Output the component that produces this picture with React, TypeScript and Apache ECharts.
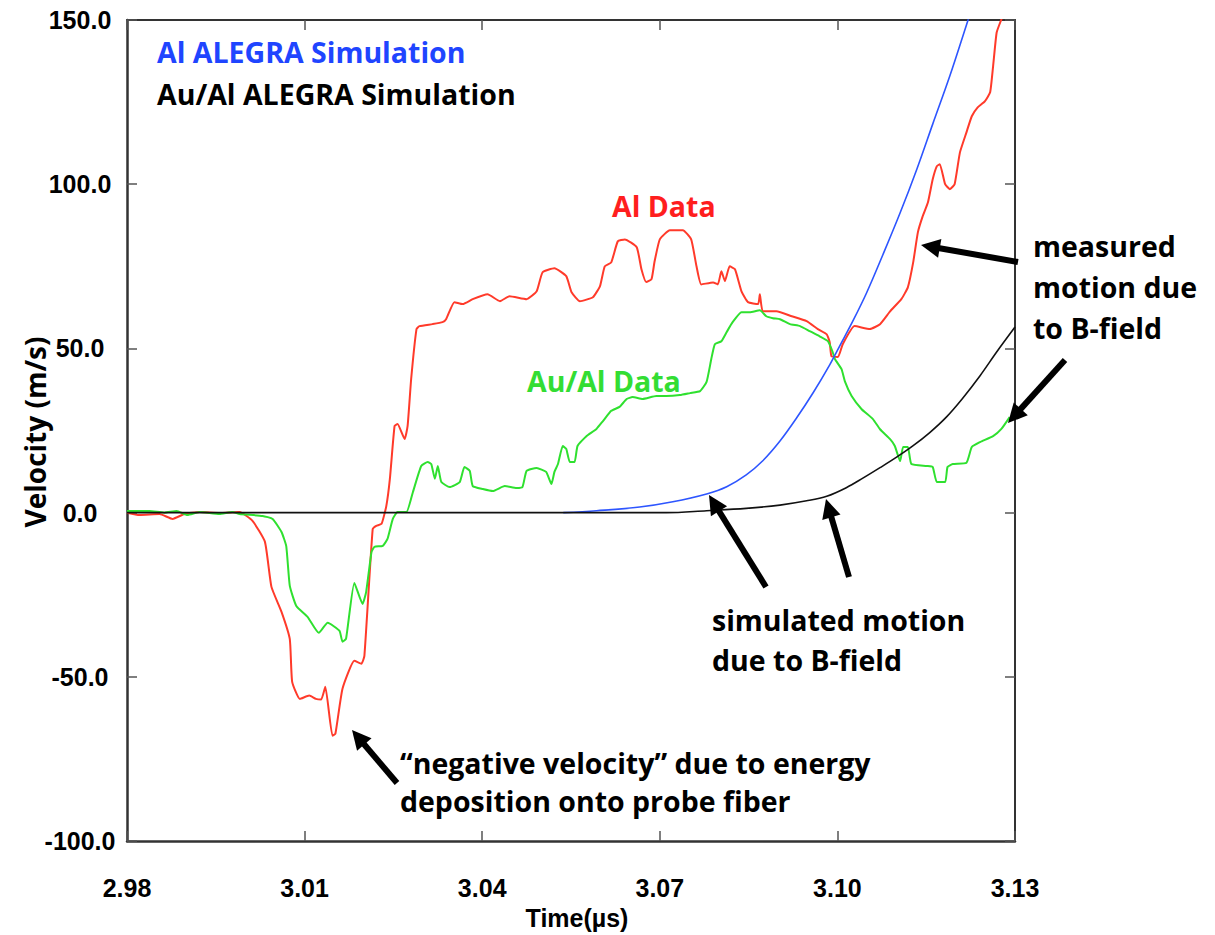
import React, { useEffect, useRef } from "react";
import * as echarts from "echarts";

// Axis definitions
const T0 = 2.98; // first tick of the time axis (µs)
const X_SPAN = 0.15;
const X_STEP = 0.03;
const Y_MIN = -100;
const Y_MAX = 150;
const Y_STEP = 50;

// [time (µs), velocity (m/s)]
const AL_DATA: [number, number][] = [
  [2.98, 0], [2.9821, -0.7], [2.9855, -0.4], [2.9877, -1.9], [2.9897, -0.4], [2.9923, 0.2],
  [2.9956, -0.1], [2.999, 0.2], [3.0012, -2.5], [3.0033, -8.9], [3.0044, -22.6], [3.0061, -30.2],
  [3.0075, -38.5], [3.0079, -51.5], [3.0092, -56.7], [3.0108, -55.7], [3.0119, -56.7], [3.0128, -56.9],
  [3.0135, -53.0], [3.0147, -67.9], [3.0152, -67.3], [3.0164, -53.6], [3.0184, -45.1], [3.0196, -46.0],
  [3.0201, -43.6], [3.0215, -5.0], [3.0221, -4.0], [3.023, -3.4], [3.0238, 2.0], [3.0244, 10.2],
  [3.0252, 26.4], [3.0257, 27.0], [3.0269, 22.4], [3.0274, 26.4], [3.028, 40.7], [3.0289, 55.9],
  [3.0294, 56.8], [3.0316, 57.4], [3.0333, 58.0], [3.0339, 58.9], [3.0353, 64.1], [3.0367, 63.5],
  [3.0384, 65.0], [3.0409, 66.5], [3.043, 64.4], [3.0446, 65.9], [3.0475, 65.0], [3.0492, 67.4],
  [3.0502, 73.2], [3.0522, 74.4], [3.0542, 72.0], [3.0551, 67.1], [3.0565, 64.4], [3.0587, 65.6],
  [3.0599, 69.0], [3.0607, 75.0], [3.0618, 76.2], [3.0629, 82.6], [3.0641, 83.2], [3.0661, 80.8],
  [3.0669, 74.1], [3.0677, 70.2], [3.0686, 71.1], [3.0691, 76.3], [3.07, 83.2], [3.0717, 86.0],
  [3.0739, 86.0], [3.0753, 83.2], [3.0762, 75.0], [3.077, 69.5], [3.079, 70.1], [3.0798, 69.5],
  [3.0804, 73.5], [3.081, 70.5], [3.0818, 75.0], [3.0827, 74.1], [3.0838, 67.4], [3.0849, 64.1],
  [3.0866, 63.5], [3.0869, 66.5], [3.0874, 61.3], [3.0897, 61.3], [3.0923, 59.8], [3.0948, 58.3],
  [3.0967, 55.9], [3.0982, 54.3], [3.0987, 51.9], [3.099, 47.6], [3.1001, 47.4], [3.1009, 51.3],
  [3.1029, 56.8], [3.1055, 55.9], [3.1072, 57.4], [3.1089, 61.3], [3.1108, 65.0], [3.1119, 68.6],
  [3.1128, 76.2], [3.1136, 85.4], [3.1144, 90.2], [3.1153, 94.5], [3.1161, 101.5], [3.1168, 105.5],
  [3.1173, 106.1], [3.1182, 100.0], [3.119, 98.5], [3.1198, 100.0], [3.1207, 109.7], [3.1218, 115.8],
  [3.1227, 120.7], [3.1237, 123.4], [3.1249, 125.2], [3.1258, 128.0], [3.1263, 135.9], [3.1269, 146.2],
  [3.1277, 150.2], [3.1283, 153.2],
];

const AUAL_DATA: [number, number][] = [
  [2.98, 0.5], [2.9838, 0.5], [2.9863, 0], [2.9884, 0.5], [2.9902, -0.7], [2.9923, 0.2],
  [2.9956, -0.4], [2.9978, 0.2], [2.999, -0.4], [3.0029, -1.0], [3.0046, -1.9], [3.0061, -5.9],
  [3.0069, -10.2], [3.0075, -22.3], [3.0086, -28.4], [3.0105, -31.7], [3.0124, -36.6], [3.0139, -33.5],
  [3.0159, -36.0], [3.0164, -39.3], [3.017, -38.4], [3.0184, -21.4], [3.0198, -27.8], [3.0204, -24.1],
  [3.0213, -12.0], [3.0218, -10.4], [3.0232, -10.1], [3.024, -8.0], [3.0249, -1.9], [3.0257, 0.2],
  [3.0272, 0.2], [3.0283, 6.3], [3.0297, 14.2], [3.0308, 15.4], [3.0314, 14.8], [3.032, 10.3],
  [3.0325, 14.2], [3.0331, 9.3], [3.0345, 7.8], [3.0362, 9.3], [3.037, 13.9], [3.0379, 12.7],
  [3.0384, 8.1], [3.0401, 7.2], [3.0418, 6.6], [3.0438, 8.1], [3.0458, 7.5], [3.0468, 7.8],
  [3.0475, 12.7], [3.0492, 13.6], [3.0508, 12.4], [3.0517, 8.7], [3.0522, 12.4], [3.0528, 14.8],
  [3.0536, 20.3], [3.0542, 19.4], [3.0548, 15.4], [3.0556, 15.4], [3.0561, 20.3], [3.0576, 23.3],
  [3.0593, 25.5], [3.0604, 27.9], [3.0618, 31.0], [3.0632, 32.2], [3.0644, 34.6], [3.0654, 35.2],
  [3.0671, 34.6], [3.0694, 35.5], [3.0711, 35.5], [3.0734, 35.8], [3.0751, 36.4], [3.0768, 37.0],
  [3.0779, 39.8], [3.0787, 46.8], [3.0793, 51.3], [3.0804, 52.2], [3.0813, 55.0], [3.0823, 58.0],
  [3.0838, 61.0], [3.0852, 61.0], [3.0869, 61.6], [3.088, 59.8], [3.0891, 59.2], [3.0903, 58.9],
  [3.092, 57.4], [3.0937, 56.8], [3.0953, 55.3], [3.097, 53.7], [3.0984, 52.2], [3.0992, 48.9],
  [3.0996, 46.7], [3.1007, 43.7], [3.1013, 39.8], [3.1024, 35.5], [3.1041, 31.5], [3.106, 28.5],
  [3.1072, 25.4], [3.1089, 22.4], [3.1097, 20.3], [3.1106, 15.7], [3.1111, 20.0], [3.1119, 20.0],
  [3.1125, 14.8], [3.1151, 14.2], [3.1161, 13.9], [3.1168, 9.3], [3.1182, 9.3], [3.1186, 13.9],
  [3.1195, 14.8], [3.1218, 15.2], [3.1227, 20.0], [3.1241, 21.5], [3.1263, 23.3], [3.1277, 25.5],
  [3.1291, 29.1],
];

const AL_SIM: [number, number][] = [
  [3.0537, 0], [3.0593, 0.6], [3.0666, 1.7], [3.0722, 3.3], [3.0779, 5.7], [3.0813, 7.9],
  [3.0846, 11.5], [3.0874, 15.8], [3.0903, 21.8], [3.0931, 28.8], [3.0959, 36.5], [3.0987, 45.0],
  [3.1004, 50.8], [3.1026, 58.3], [3.1049, 66.8], [3.1077, 78.6], [3.1106, 91.3], [3.1134, 104.5],
  [3.1161, 118.3], [3.119, 133.0], [3.1218, 148.5], [3.1226, 153.0],
];

const AUAL_SIM: [number, number][] = [
  [2.98, 0], [3.0711, 0], [3.0779, 0.6], [3.0846, 1.3], [3.0903, 2.3], [3.0948, 3.6],
  [3.0982, 5.0], [3.1015, 7.6], [3.1043, 10.5], [3.1072, 13.7], [3.11, 16.9], [3.1128, 20.4],
  [3.1156, 24.4], [3.1184, 29.1], [3.1211, 34.7], [3.1241, 41.7], [3.1269, 48.9], [3.13, 56.5],
];

const SERIES_NAMES = ["Al Data", "Au/Al Data", "Al ALEGRA Simulation", "Au/Al ALEGRA Simulation"];
const SERIES_COLORS = ["#ff3a2a", "#2fe02f", "#2d55ff", "#111111"];

const ANN_FONT = '"Open Sans", "DejaVu Sans", sans-serif';
const AXIS_FONT = '"Liberation Sans", Arial, sans-serif';

function shift(d: [number, number][]) {
  return d.map(([t, v]) => [+(t - T0).toFixed(5), v]);
}

function arrow(x1: number, y1: number, x2: number, y2: number) {
  const dx = x2 - x1;
  const dy = y2 - y1;
  const L = Math.hypot(dx, dy);
  const ux = dx / L;
  const uy = dy / L;
  const head = 19;
  const hw = 9.5;
  const bx = x2 - ux * head;
  const by = y2 - uy * head;
  const px = -uy;
  const py = ux;
  return [
    {
      type: "line",
      shape: { x1, y1, x2: bx + ux * 3, y2: by + uy * 3 },
      style: { stroke: "#000", lineWidth: 6 },
      z: 100,
    },
    {
      type: "polygon",
      shape: { points: [[x2, y2], [bx + px * hw, by + py * hw], [bx - px * hw, by - py * hw]] },
      style: { fill: "#000" },
      z: 100,
    },
  ];
}

function label(text: string, x: number, y: number, fill: string, size = 28.5) {
  return {
    type: "text",
    x,
    y,
    z: 100,
    style: {
      text,
      fill,
      font: `bold ${size}px ${ANN_FONT}`,
      textAlign: "left",
      textVerticalAlign: "bottom",
    },
  };
}

export default function App() {
  const ref = useRef<HTMLDivElement>(null);

  useEffect(() => {
    if (!ref.current) return;
    const chart = echarts.init(ref.current, undefined, { renderer: "svg" });

    const axisLabelStyle = {
      fontFamily: AXIS_FONT,
      fontWeight: "bold",
      fontSize: 25,
      color: "#000",
    };
    const lineStyle = { color: "#333", width: 2.5 };
    const tickStyle = { color: "#555", width: 1.5 };

    const datasets = [AL_DATA, AUAL_DATA, AL_SIM, AUAL_SIM];

    chart.setOption({
      animation: false,
      backgroundColor: "#fff",
      grid: { left: 127, right: 200, top: 20, bottom: 93, containLabel: false },
      xAxis: [
        {
          type: "value",
          position: "bottom",
          min: 0,
          max: X_SPAN,
          interval: X_STEP,
          axisLine: { show: true, onZero: false, lineStyle },
          axisTick: { show: true, inside: true, length: 10, lineStyle: tickStyle },
          axisLabel: {
            ...axisLabelStyle,
            margin: 34,
            formatter: (v: number) => (v + T0).toFixed(2),
          },
          splitLine: { show: false },
          name: "Time(\u00b5s)",
          nameLocation: "middle",
          nameGap: 62,
          nameTextStyle: { ...axisLabelStyle, padding: [0, 0, 0, 12] },
        },
        {
          type: "value",
          position: "top",
          min: 0,
          max: X_SPAN,
          interval: X_STEP,
          axisLine: { show: true, onZero: false, lineStyle: { color: "#333", width: 2 } },
          axisTick: { show: true, inside: true, length: 10, lineStyle: tickStyle },
          axisLabel: { show: false },
          splitLine: { show: false },
        },
      ],
      yAxis: [
        {
          type: "value",
          position: "left",
          min: Y_MIN,
          max: Y_MAX,
          interval: Y_STEP,
          axisLine: { show: true, onZero: false, lineStyle },
          axisTick: { show: true, inside: true, length: 10, lineStyle: tickStyle },
          axisLabel: {
            ...axisLabelStyle,
            margin: 47,
            align: "center",
            formatter: (v: number) => v.toFixed(1),
          },
          splitLine: { show: false },
        },
        {
          type: "value",
          position: "right",
          min: Y_MIN,
          max: Y_MAX,
          interval: Y_STEP,
          axisLine: { show: true, onZero: false, lineStyle: { color: "#333", width: 2 } },
          axisTick: { show: true, inside: true, length: 10, lineStyle: tickStyle },
          axisLabel: { show: false },
          splitLine: { show: false },
        },
      ],
      series: SERIES_NAMES.map((name, i) => ({
        name,
        type: "line",
        xAxisIndex: 0,
        yAxisIndex: 0,
        data: shift(datasets[i]),
        showSymbol: false,
        symbol: "none",
        smooth: i >= 2 ? 0.35 : 0.15,
        clip: true,
        z: 2 + i,
        lineStyle: { color: SERIES_COLORS[i], width: i >= 2 ? 1.6 : 2 },
      })),
      graphic: [
        {
          type: "text",
          x: 35,
          y: 432,
          rotation: Math.PI / 2,
          z: 100,
          style: {
            text: "Velocity (m/s)",
            fill: "#000",
            font: `bold 28px ${ANN_FONT}`,
            textAlign: "center",
            textVerticalAlign: "middle",
          },
        },
        label("Al ALEGRA Simulation", 157, 66, "#1f45ff", 28.5),
        label("Au/Al ALEGRA Simulation", 157, 108, "#000", 28.5),
        label("Al Data", 612, 220, "#ff1e1e"),
        label("Au/Al Data", 527, 395, "#33dd33"),
        label("measured", 1033, 260, "#000"),
        label("motion due", 1033, 301, "#000"),
        label("to B-field", 1033, 342, "#000"),
        label("simulated motion", 712, 634, "#000"),
        label("due to B-field", 712, 674, "#000"),
        label("\u201cnegative velocity\u201d due to energy", 400, 777, "#000"),
        label("deposition onto probe fiber", 400, 815, "#000"),
        ...arrow(397, 783, 352, 730),
        ...arrow(766, 587, 709, 495),
        ...arrow(849, 577, 826, 499),
        ...arrow(1018, 262, 921, 245),
        ...arrow(1065, 360, 1008, 423),
      ],
    });

    return () => {
      chart.dispose();
    };
  }, []);

  return (
    <div
      ref={ref}
      style={{ position: "absolute", left: 0, top: 0, width: 1215, height: 935 }}
    />
  );
}
